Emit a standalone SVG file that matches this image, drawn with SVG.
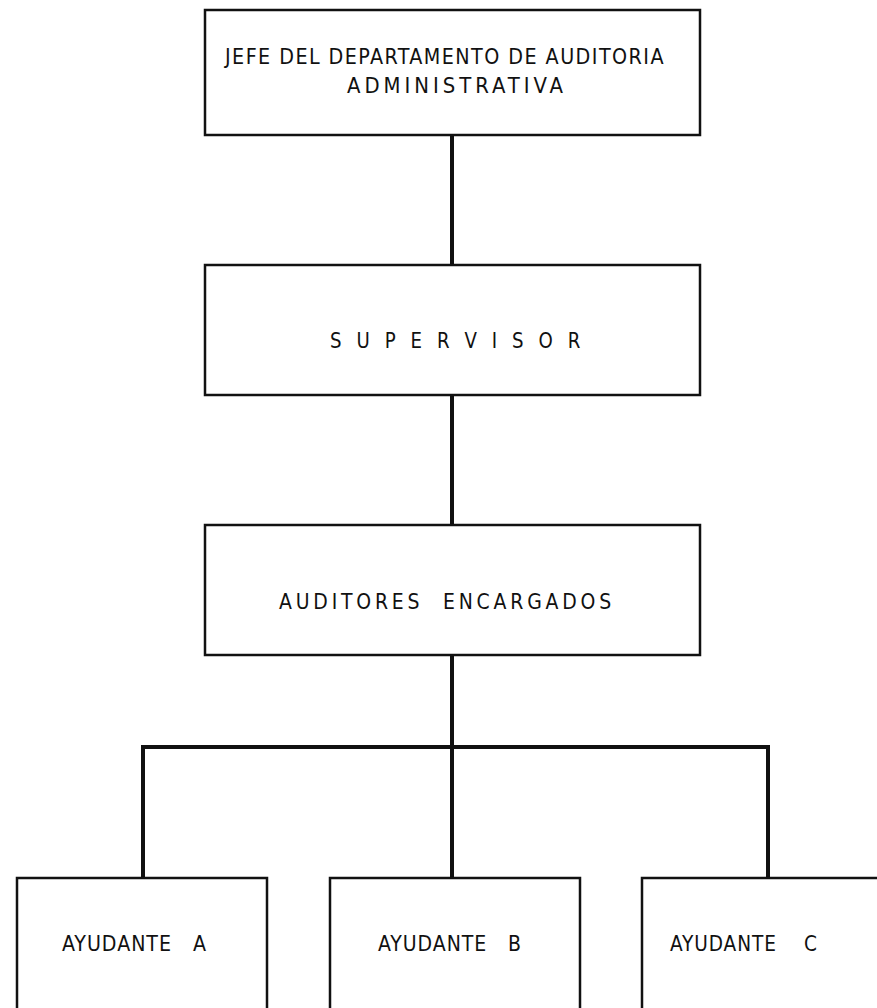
<svg xmlns="http://www.w3.org/2000/svg" width="877" height="1008" viewBox="0 0 877 1008">
<style>
.box{fill:#fff;stroke:#111;stroke-width:2.5}
.conn{stroke:#111;stroke-width:4;fill:none;stroke-linecap:square}
.lbl{font-family:"Liberation Sans Narrow","DejaVu Sans Condensed","Liberation Sans",sans-serif;font-size:22px;fill:#111;white-space:pre}
</style>
<rect width="877" height="1008" fill="#fff"/>
<g id="connectors">
<line class="conn" x1="452" y1="135" x2="452" y2="265"/>
<line class="conn" x1="452" y1="395" x2="452" y2="525"/>
<line class="conn" x1="452" y1="655" x2="452" y2="878"/>
<polyline class="conn" points="143,878 143,747 768,747 768,878"/>
</g>
<g id="jefe">
<rect class="box" x="205" y="10" width="495" height="125"/>
<text class="lbl" x="225" y="64" textLength="440" lengthAdjust="spacingAndGlyphs" letter-spacing="1.5">JEFE DEL DEPARTAMENTO DE AUDITORIA</text>
<text class="lbl" x="347" y="93" textLength="220" lengthAdjust="spacingAndGlyphs" letter-spacing="4">ADMINISTRATIVA</text>
</g>
<g id="supervisor">
<rect class="box" x="205" y="265" width="495" height="130"/>
<text class="lbl" x="330" y="348" textLength="255" lengthAdjust="spacingAndGlyphs" letter-spacing="5">S U P E R V I S O R</text>
</g>
<g id="auditores">
<rect class="box" x="205" y="525" width="495" height="130"/>
<text class="lbl" x="279" y="609" textLength="336" lengthAdjust="spacingAndGlyphs" letter-spacing="4">AUDITORES  ENCARGADOS</text>
</g>
<g id="ayudante-a">
<rect class="box" x="17" y="878" width="250" height="150"/>
<text class="lbl" x="62" y="951" textLength="145" lengthAdjust="spacingAndGlyphs" letter-spacing="1">AYUDANTE   A</text>
</g>
<g id="ayudante-b">
<rect class="box" x="330" y="878" width="250" height="150"/>
<text class="lbl" x="378" y="951" textLength="144" lengthAdjust="spacingAndGlyphs" letter-spacing="1">AYUDANTE   B</text>
</g>
<g id="ayudante-c">
<rect class="box" x="642" y="878" width="250" height="150"/>
<text class="lbl" x="670" y="951" textLength="148" lengthAdjust="spacingAndGlyphs" letter-spacing="1">AYUDANTE    C</text>
</g>
</svg>
